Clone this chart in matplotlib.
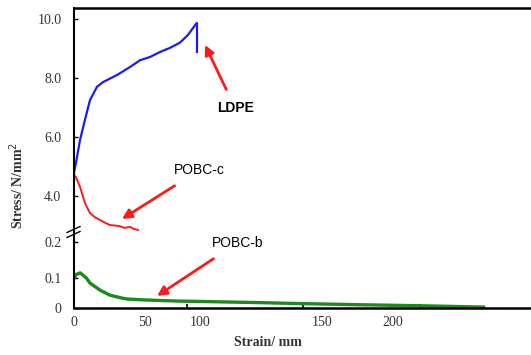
import matplotlib
matplotlib.use("Agg")
import matplotlib.pyplot as plt

# ---- data ----
ldpe_strain = [0, 0, 1.6, 4.9, 8.9, 13, 18.7, 23.6, 35, 45.5, 53.7, 61.8, 70, 78, 86, 92.7, 99.2, 100, 100]
ldpe_stress = [4.54, 4.8, 5.12, 5.9, 6.58, 7.25, 7.7, 7.86, 8.1, 8.37, 8.6, 8.71, 8.88, 9.02, 9.19, 9.46, 9.83, 9.86, 8.88]

pobcc_strain = [0, 1.6, 4.9, 8.9, 13, 17, 21, 25, 29, 33, 37, 41, 45.5, 49, 52]
pobcc_stress = [4.7, 4.64, 4.31, 3.76, 3.42, 3.28, 3.19, 3.1, 3.02, 3.0, 2.98, 2.92, 2.95, 2.88, 2.85]

pobcb_strain = [0, 2, 5, 10, 13, 21, 29, 39, 43, 56, 70, 85, 100, 124, 150, 180, 206, 230, 260, 287, 310, 333]
pobcb_stress = [0.1, 0.112, 0.117, 0.1, 0.083, 0.06, 0.043, 0.033, 0.03, 0.027, 0.025, 0.023, 0.022, 0.02, 0.018, 0.015, 0.013, 0.011, 0.009, 0.007, 0.005, 0.003]

xtick_pos = [0, 57.7, 102.4, 202, 259]
xtick_labels = ["0", "50", "100", "150", "200"]
xminor_pos = [92, 186, 281]
upper_yticks = [4.0, 6.0, 8.0, 10.0]
upper_ylabels = ["4.0", "6.0", "8.0", "10.0"]
lower_yticks = [0, 0.1, 0.22]
lower_ylabels = ["0", "0.1", "0.2"]

W, H = 531, 355
fig = plt.figure(figsize=(W / 100, H / 100), dpi=100)

def fx(px):
    return px / W

def fy(py):
    return 1 - py / H

left = fx(74)
right = 1.0
ax_up = fig.add_axes([left, fy(232), right - left, fy(8) - fy(232)])
ax_lo = fig.add_axes([left, fy(308), right - left, fy(232) - fy(308)], sharex=ax_up)

xmax = (W - 74) / 1.23
serif = "Liberation Serif"

ax_up.plot(ldpe_strain, ldpe_stress, color="#1a1aff", lw=1.6, solid_joinstyle="round")
ax_up.plot(pobcc_strain, pobcc_stress, color="#ff1a1a", lw=1.4)
ax_lo.plot(pobcb_strain, pobcb_stress, color="#1a8a1a", lw=2.4)

ax_up.set_xlim(0, xmax)
ax_up.set_ylim(2.78, 10.37)
ax_lo.set_ylim(0, 0.253)

for ax in (ax_up, ax_lo):
    ax.spines["right"].set_visible(False)
    ax.spines["left"].set_linewidth(1.5)
    ax.tick_params(axis="y", direction="in", length=3, width=1, pad=9,
                   labelsize=10, labelcolor="#333333")
ax_up.spines["bottom"].set_visible(False)
ax_up.spines["top"].set_linewidth(1.8)
ax_lo.spines["top"].set_visible(False)
ax_lo.spines["bottom"].set_linewidth(1.8)

ax_up.set_yticks(upper_yticks)
ax_up.set_yticklabels(upper_ylabels, family=serif)
ax_lo.set_yticks(lower_yticks)
ax_lo.set_yticklabels(lower_ylabels, family=serif)

ax_up.tick_params(axis="x", which="both", bottom=False, labelbottom=False)
ax_lo.set_xticks(xtick_pos)
ax_lo.set_xticklabels(xtick_labels, family=serif)
ax_lo.set_xticks(xminor_pos, minor=True)
ax_lo.tick_params(axis="x", which="major", length=0, pad=6, labelsize=10, labelcolor="#333333")
ax_lo.tick_params(axis="x", which="minor", direction="in", length=3, width=1.2)

# break marks
for dy in (-2.5, 2.5):
    fig.add_artist(plt.Line2D([fx(67), fx(80)], [fy(235 + dy), fy(229 + dy)],
                              color="black", lw=1.0))

# axis labels
fig.text(fx(268), fy(343), "Strain/ mm", ha="center", va="center",
         family=serif, fontsize=10, fontweight="bold", color="#333333")
fig.text(fx(17), fy(185), "Stress/ N/mm$^2$", ha="center", va="center",
         rotation=90, family=serif, fontsize=10, fontweight="bold", color="#333333")

arrow = dict(arrowstyle="-|>", color="#ff1a1a", lw=2, mutation_scale=14)
ax_up.annotate("LDPE", xy=(106.5, 9.12), xytext=(131, 6.98), ha="center", va="center",
               family="Liberation Sans", fontweight="bold", fontsize=10,
               arrowprops=dict(arrow, shrinkA=7, shrinkB=0), annotation_clip=False)
ax_up.annotate("POBC-c", xy=(39, 3.22), xytext=(102, 4.88), ha="center", va="center",
               family="Liberation Sans", fontsize=10,
               arrowprops=dict(arrow, shrinkA=8, shrinkB=0), annotation_clip=False)
ax_lo.annotate("POBC-b", xy=(67.5, 0.04), xytext=(133, 0.217), ha="center", va="center",
               family="Liberation Sans", fontsize=10,
               arrowprops=dict(arrow, shrinkA=8, shrinkB=0), annotation_clip=False)

fig.savefig("out.png", dpi=100)
